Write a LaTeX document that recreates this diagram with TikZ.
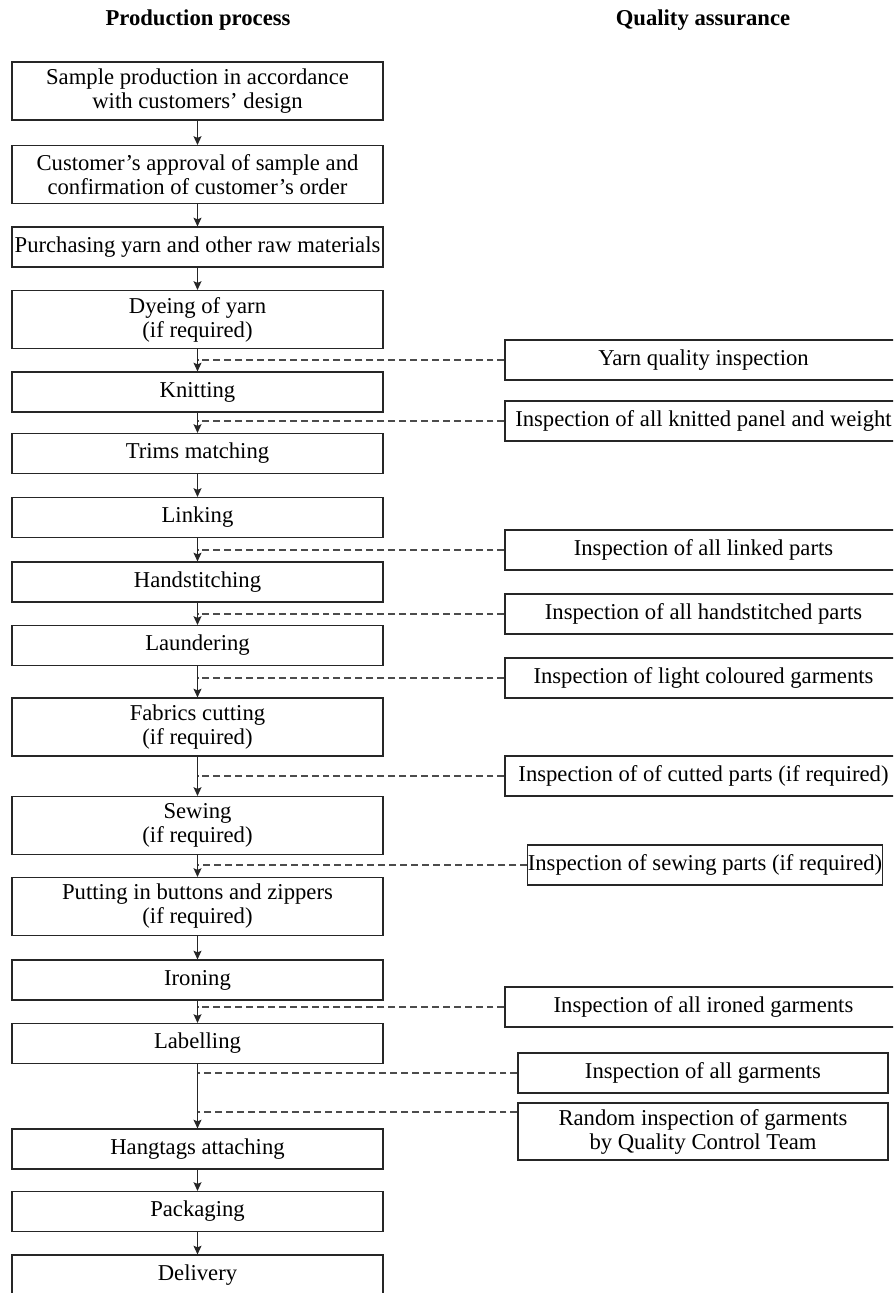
\documentclass[tikz,border=0pt]{standalone}
\usepackage{fontspec}
\setmainfont{Liberation Serif}
\usetikzlibrary{arrows.meta,calc}

\begin{document}
\begin{tikzpicture}[x=0.75pt,y=-0.75pt,
  font=\fontsize{17}{18}\selectfont,
  boxline/.style={draw=black!85, line width=0.9pt, align=center, inner sep=0pt},
  pbox/.style={boxline, minimum width=278.25pt, minimum height=30pt},
  pbox2/.style={pbox, minimum height=43.5pt},
  qbox/.style={boxline, minimum width=297.75pt, minimum height=30pt},
  flow/.style={draw=black!85, line width=0.8pt, -{Stealth[length=6.5pt,width=6pt,inset=1.2pt]}},
  qline/.style={draw=black!70, line width=0.8pt, dash pattern=on 5.2pt off 3pt},
  heading/.style={font=\fontsize{17}{18}\selectfont\bfseries}]

\clip (0,0) rectangle (893,1293);

% column headings
\node[heading] (h1) at (198,20) {Production process};
\node[heading] (h2) at (703,20) {Quality assurance};

% production steps
\node[pbox2] (p1)  at (197.5,91)    {Sample production in accordance\\with customers’ design};
\node[pbox2] (p2)  at (197.5,174.5) {Customer’s approval of sample and\\confirmation of customer’s order};
\node[pbox]  (p3)  at (197.5,247)   {Purchasing yarn and other raw materials};
\node[pbox2] (p4)  at (197.5,319.5) {Dyeing of yarn\\(if required)};
\node[pbox]  (p5)  at (197.5,392)   {Knitting};
\node[pbox]  (p6)  at (197.5,453.5) {Trims matching};
\node[pbox]  (p7)  at (197.5,517.5) {Linking};
\node[pbox]  (p8)  at (197.5,582)   {Handstitching};
\node[pbox]  (p9)  at (197.5,645.5) {Laundering};
\node[pbox2] (p10) at (197.5,727)   {Fabrics cutting\\(if required)};
\node[pbox2] (p11) at (197.5,825.5) {Sewing\\(if required)};
\node[pbox2] (p12) at (197.5,906.5) {Putting in buttons and zippers\\(if required)};
\node[pbox]  (p13) at (197.5,980)   {Ironing};
\node[pbox]  (p14) at (197.5,1043.5){Labelling};
\node[pbox]  (p15) at (197.5,1149)  {Hangtags attaching};
\node[pbox]  (p16) at (197.5,1211.5){Packaging};
\node[pbox]  (p17) at (197.5,1275)  {Delivery};

\foreach \a/\b in {p1/p2,p2/p3,p3/p4,p4/p5,p5/p6,p6/p7,p7/p8,p8/p9,p9/p10,
                   p10/p11,p11/p12,p12/p13,p13/p14,p14/p15,p15/p16,p16/p17}
  \draw[flow] (\a.south) -- (\b.north);

% quality checks
\node[qbox] (q1)  at (703.5,360)   {Yarn quality inspection};
\node[qbox] (q2)  at (703.5,421)   {Inspection of all knitted panel and weight};
\node[qbox] (q3)  at (703.5,550)   {Inspection of all linked parts};
\node[qbox] (q4)  at (703.5,614)   {Inspection of all handstitched parts};
\node[qbox] (q5)  at (703.5,678)   {Inspection of light coloured garments};
\node[qbox] (q6)  at (703.5,776)   {Inspection of of cutted parts (if required)};
\node[qbox, minimum width=264pt] (q7) at (705,865) {Inspection of sewing parts (if required)};
\node[qbox] (q8)  at (703.5,1007)  {Inspection of all ironed garments};
\node[qbox, minimum width=277.5pt] (q9)  at (703,1073) {Inspection of all garments};
\node[qbox, minimum width=277.5pt, minimum height=42.75pt] (q10) at (703,1131.5)
  {Random inspection of garments\\by Quality Control Team};

\foreach \q/\p in {q1/p4,q2/p5,q3/p7,q4/p8,q5/p9,q6/p10,q7/p11,q8/p13,q9/p14}
  \draw[qline] (\q.west) -- (\q.west -| \p.south);
% the random check joins the flow near the top of its box
\coordinate (r10) at (q10.west |- 0,1112);
\draw[qline] (r10) -- (r10 -| p14.south);

\end{tikzpicture}
\end{document}
